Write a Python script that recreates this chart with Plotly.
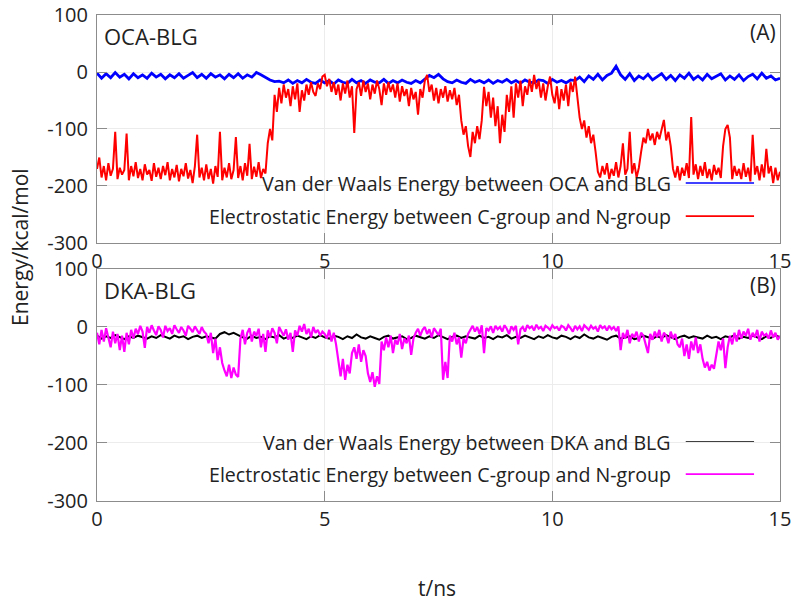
import numpy as np
import plotly.graph_objects as go
from plotly.subplots import make_subplots

# ---------------- data ----------------
T_START, T_END = 0.0, 15.0

# Panel A : OCA-BLG, electrostatic energy (C-group / N-group), ~0.05 ns spacing
oca_elec = [
    -170, -150, -185, -165, -190, -160, -182, -170, -105, -188, -168, -180,
    -172, -108, -190, -165, -183, -158, -186, -170, -190, -162, -180, -172,
    -191, -160, -184, -168, -188, -165, -181, -158, -190, -170, -185, -163,
    -192, -170, -183, -160, -187, -172, -195, -165, -110, -185, -168, -190,
    -162, -188, -170, -196, -165, -184, -105, -190, -168, -185, -160, -188,
    -172, -114, -186, -165, -190, -160, -182, -126, -188, -166, -184, -158,
    -186, -170, -178, -125, -100, -120, -40, -70, -28, -55, -22, -45,
    -30, -60, -25, -48, -20, -70, -32, -50, -22, -40, -18, -35,
    -42, -20, -30, -8, -5, -25, -12, -35, -18, -40, -22, -50,
    -20, -38, -15, -45, -25, -107, -30, -18, -42, -15, -35, -20,
    -48, -22, -38, -15, -30, -58, -20, -40, -18, -35, -22, -45,
    -20, -52, -25, -42, -30, -60, -28, -48, -35, -75, -30, -45,
    -15, -5, -35, -22, -50, -28, -55, -30, -45, -25, -52, -32,
    -48, -28, -58, -40, -85, -110, -95, -130, -149, -105, -125, -95,
    -118, -85, -26, -60, -35, -80, -45, -95, -60, -125, -75, -105,
    -40, -70, -25, -80, -20, -45, -15, -60, -25, -40, -12, -35,
    -5, -30, -15, -45, -20, -50, -25, -8, -40, -55, -25, -65,
    -30, -50, -22, -60, -18, -35, -8, -40, -80, -100, -85, -115,
    -95, -125, -110, -140, -175, -185, -165, -180, -160, -188, -170, -182,
    -158, -185, -165, -125, -180, -170, -105, -178, -160, -185, -168, -140,
    -115, -125, -100, -120, -108, -128, -105, -118, -98, -84, -120, -105,
    -130, -170, -185, -165, -190, -168, -182, -160, -186, -79, -180, -162,
    -188, -165, -182, -158, -186, -170, -190, -163, -180, -168, -186, -130,
    -100, -93, -115, -188, -165, -182, -170, -188, -160, -184, -168, -192,
    -110, -180, -165, -190, -162, -185, -135, -178, -165, -195, -168, -190,
    -175,
]

# Panel A : OCA-BLG, van der Waals energy, ~0.1 ns spacing
oca_vdw = [
    -2, -11, -3, -10, -1, -9, -4, -12, -3, -10, -5, -11, -2, -9, -4, -12,
    -5, -10, -3, -11, -6, -1, -10, -4, -11, -3, -9, -5, -12, -4, -10, -3,
    -11, -5, -9, -1,
    -5, -10, -14, -17, -16,
    -19, -14, -20, -15, -19, -13, -18, -20, -14, -19, -15, -21, -14, -18,
    -20, -13, -19, -15, -20, -14, -18, -19, -13, -20, -15, -19, -14, -18,
    -20, -15, -19,
    -12, -6, -10, -4, -12,
    -17, -19, -14, -18, -20, -13, -18, -15, -19, -14, -20, -15, -18, -13,
    -19, -15, -20, -14, -18, -19, -14, -15, -20, -13, -18, -15, -19, -14,
    -15, -9, -17, -7, -13, -4, -14, -6, -2, 10, -5, -13, -3, -15, -7,
    -12, -4, -14, -8, -3, -13, -6, -15, -5, -11, -2, -13, -7, -14, -4,
    -12, -8, -3, -14, -7, -13, -5, -15, -8, -4, -12, -2, -11, -7, -14, -11,
]

# Panel B : DKA-BLG, electrostatic energy, ~0.05 ns spacing
dka_elec = [
    -10, -30, -5, -25, -2, -20, -35, -8, -28, -12, -40,
    -15, -43, -10, -30, -5, -20,
    -3, -12, 2, -8, -36, 0, -10, 3, -6, -14, 1, -5, -18, 2, -7, -2,
    -12, 3, -4, -10, 0, -6, -15, 2, -3, -9, 1, -5, -12, 0, -8,
    -12, -28, -10, -45, -20, -57, -35,
    -62, -75, -85, -65, -88, -70, -82, -86,
    -20, -5, -30, -10, -2, -25, -8, -15, -3, -35, -12, -43, -6, -18, -2,
    -10, -28, 0, -8, -15, -4, -22, -10, -43, -6, -15, 2, -8, 5, -12, -3,
    -18, 0, -10, -5, -15, -8,
    -12, -20, -5, -25, -10, -30,
    -60, -85, -55, -91, -65, -80, -45,
    -35, -55, -30, -60, -40, -50,
    -80, -95, -78, -103, -85, -98,
    -25, -40, -18, -35, -15, -45, -22, -30, -12, -38, -20, -28, -15, -48, -20,
    -10, -3, -15, -5, 0, -12, -4, -18, -2, -8, -14, -3,
    -91, -60, -88,
    -15, -25, -10, -30, -18, -53, -20, -28, -12,
    -5, 2, -8, 0, -12, 3, -45, -2, -6, 1, -10, 2, -4, 0, -8, 3, -3, -12,
    1, -5, 2, -30, -4, 0, -8, 3, -2, 1, -6, 4, -3, 0, -7, 2, -1, -5, 3,
    -2, 0, -6, 2,
    0, -6, 3, -2, -8, 2, -4, 1, -7, 3, -1, -5, 2, -3, 0, -8, 3, -2, 1,
    -6, 2, -4, 0, -7, 1,
    -40, -10, -20, -5, -28, -12, -18, -8, -25, -10, -15, -30, -45, -12,
    -22, -8, -18, -5, -25, -10, -15, -28, -8, -20, -12, -30,
    -35, -20, -50, -30, -55, -25, -40, -18, -45, -30,
    -55, -70, -60, -75, -65, -72, -50,
    -25, -40, -20, -71, -35, -15, -30,
    -10, -25, -5, -20, -8, -15, -3, -22, -10, -18, -5, -25, -8, -15, -12,
    -20, -6, -18, -10, -22, -15,
]

# Panel B : DKA-BLG, van der Waals energy, ~0.1 ns spacing
dka_vdw = [
    -15, -20, -16, -19, -14, -18, -21, -16, -19, -15, -18, -20, -16, -19,
    -14, -17, -20, -15, -18, -16, -21, -17, -15, -19, -16, -18, -20,
    -12, -9, -13, -10, -14,
    -18, -20, -15, -19, -17, -21, -16, -18, -14, -20,
    -17, -19, -15, -18, -21, -16, -19, -14, -18, -20,
    -15, -17, -21, -16, -19, -13, -18, -20, -16, -19,
    -22, -17, -15, -20, -18, -16, -21, -19, -15, -18,
    -20, -16, -19, -14, -18, -21, -17, -15, -19, -16,
    -18, -20, -15, -19, -17, -21, -16, -18, -14, -20,
    -17, -19, -15, -18, -21, -16, -19, -14, -18, -20,
    -15, -17, -21, -16, -19, -13, -18, -20, -16, -19,
    -22, -17, -15, -20, -18, -16, -21, -19, -15, -18,
    -20, -16, -19, -14, -18, -21, -17, -15, -19, -16,
    -18, -20, -15, -19, -17, -21, -16, -18, -14, -20,
    -17, -19, -15, -18, -21, -16, -19, -14, -18,
]

x_ticks = [0, 5, 10, 15]
y_ticks = [100, 0, -100, -200, -300]

legend_a = ["Van der Waals Energy between OCA and BLG",
            "Electrostatic Energy between C-group and N-group"]
legend_b = ["Van der Waals Energy between DKA and BLG",
            "Electrostatic Energy between C-group and N-group"]
panel_labels = ["OCA-BLG", "DKA-BLG"]
panel_tags = ["(A)", "(B)"]
y_title = "Energy/kcal/mol"
x_title = "t/ns"

colors_a = ["#0000ff", "#ff0000"]
colors_b = ["#000000", "#ff00ff"]


def tgrid(vals):
    return np.linspace(T_START, T_END, len(vals))


# ---------------- figure ----------------
FONT = "Open Sans"
TXT = "#222222"
AX = "#8c8c8c"

fig = make_subplots(rows=2, cols=1, vertical_spacing=0.0)

fig.add_trace(go.Scatter(x=tgrid(oca_vdw), y=oca_vdw, mode="lines",
                         line=dict(color=colors_a[0], width=2.8),
                         name=legend_a[0], showlegend=False), row=1, col=1)
fig.add_trace(go.Scatter(x=tgrid(oca_elec), y=oca_elec, mode="lines",
                         line=dict(color=colors_a[1], width=2),
                         name=legend_a[1], showlegend=False), row=1, col=1)
fig.add_trace(go.Scatter(x=tgrid(dka_vdw), y=dka_vdw, mode="lines",
                         line=dict(color=colors_b[0], width=2),
                         name=legend_b[0], showlegend=False), row=2, col=1)
fig.add_trace(go.Scatter(x=tgrid(dka_elec), y=dka_elec, mode="lines",
                         line=dict(color=colors_b[1], width=2.2),
                         name=legend_b[1], showlegend=False), row=2, col=1)

axis_common = dict(showline=True, linecolor=AX, linewidth=1, mirror="ticks",
                   ticks="inside", ticklen=10, tickcolor=AX, tickwidth=1,
                   showgrid=True, gridcolor="#ececec", gridwidth=1,
                   zeroline=False, automargin=False,
                   tickfont=dict(family=FONT, size=20, color=TXT))

fig.update_xaxes(range=[T_START, T_END], tickvals=x_ticks,
                 ticktext=[str(v) for v in x_ticks], **axis_common)
fig.update_yaxes(range=[y_ticks[-1], y_ticks[0]], tickvals=y_ticks,
                 ticktext=[str(v) for v in y_ticks], ticklabelstandoff=4,
                 **axis_common)

fig.update_layout(
    width=800, height=605,
    margin=dict(l=97, r=20, t=15, b=104),
    paper_bgcolor="white", plot_bgcolor="white",
    showlegend=False,
    font=dict(family=FONT, color=TXT),
)
fig.layout.yaxis.domain = [0.5309, 1.0]
fig.layout.yaxis2.domain = [0.0, 0.4774]

# legend-like keys (text right aligned, sample line to the right), as in gnuplot
leg_rows = [(0.263, 0.118), (0.254, 0.116)]
for k, (labels, cols) in enumerate([(legend_a, colors_a), (legend_b, colors_b)]):
    xr = "x domain" if k == 0 else "x2 domain"
    yr = "y domain" if k == 0 else "y2 domain"
    for j in range(2):
        yy = leg_rows[k][j]
        fig.add_annotation(xref=xr, yref=yr, x=0.843, y=yy, text=labels[j],
                           showarrow=False, xanchor="right", yanchor="middle",
                           font=dict(family=FONT, size=19.6, color=TXT))
        fig.add_shape(type="line", xref=xr, yref=yr, x0=0.862, x1=0.962,
                      y0=yy, y1=yy, line=dict(color=cols[j], width=1.6),
                      layer="below")
    fig.add_annotation(xref=xr, yref=yr, x=0.008, y=0.91 if k == 0 else 0.908,
                       text=panel_labels[k], showarrow=False, xanchor="left",
                       yanchor="middle", font=dict(family=FONT, size=22, color=TXT))
    fig.add_annotation(xref=xr, yref=yr, x=0.997, y=0.925 if k == 0 else 0.93,
                       text=panel_tags[k], showarrow=False, xanchor="right",
                       yanchor="middle", font=dict(family=FONT, size=21, color=TXT))

fig.add_annotation(xref="paper", yref="paper", x=-0.1127, y=0.5226,
                   text=y_title, textangle=-90, showarrow=False,
                   xanchor="center", yanchor="middle",
                   font=dict(family=FONT, size=21, color=TXT))
fig.add_annotation(xref="paper", yref="paper", x=0.498, y=-0.179,
                   text=x_title, showarrow=False, xanchor="center",
                   yanchor="middle", font=dict(family=FONT, size=21, color=TXT))

fig.write_html("out.html", config={"displayModeBar": False},
               post_script="document.body.style.margin='0';"
                           "document.body.style.overflow='hidden';")
